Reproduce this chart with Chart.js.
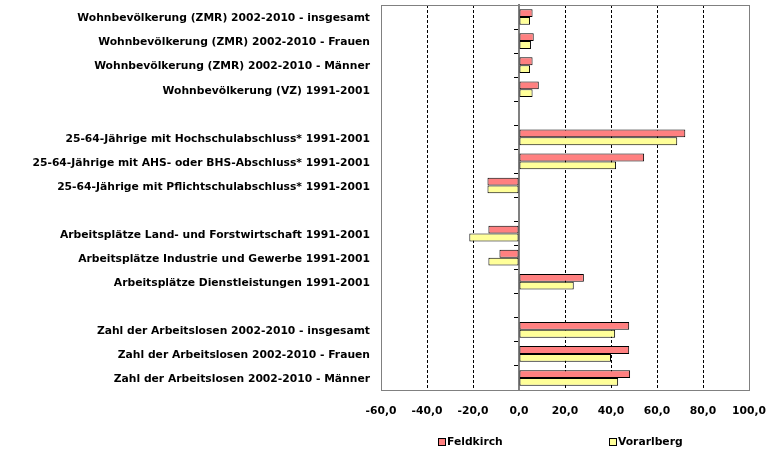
<!DOCTYPE html>
<html>
<head>
<meta charset="utf-8">
<script src="https://cdn.jsdelivr.net/npm/chart.js@4/dist/chart.umd.min.js"></script>
<style>
html,body{margin:0;padding:0;background:#fff;}
#wrap{width:777px;height:458px;position:relative;}
</style>
</head>
<body>
<div id="wrap"><canvas id="c" width="777" height="458"></canvas></div>
<script>
const categories = [
  'Wohnbevölkerung (ZMR) 2002-2010 - insgesamt',
  'Wohnbevölkerung (ZMR) 2002-2010 - Frauen',
  'Wohnbevölkerung (ZMR) 2002-2010 - Männer',
  'Wohnbevölkerung (VZ) 1991-2001',
  '',
  '25-64-Jährige mit Hochschulabschluss* 1991-2001',
  '25-64-Jährige mit AHS- oder BHS-Abschluss* 1991-2001',
  '25-64-Jährige mit Pflichtschulabschluss* 1991-2001',
  '',
  'Arbeitsplätze Land- und Forstwirtschaft 1991-2001',
  'Arbeitsplätze Industrie und Gewerbe 1991-2001',
  'Arbeitsplätze Dienstleistungen 1991-2001',
  '',
  'Zahl der Arbeitslosen 2002-2010 - insgesamt',
  'Zahl der Arbeitslosen 2002-2010 - Frauen',
  'Zahl der Arbeitslosen 2002-2010 - Männer'
];
const seriesNames = ['Feldkirch', 'Vorarlberg'];
const feldkirch = [5.9, 6.4, 5.9, 8.6, null, 72.3, 54.4, -13.7, null, -13.3, -8.5, 28.2, null, 47.9, 47.9, 48.3];
const vorarlberg = [4.8, 5.2, 4.8, 5.9, null, 68.8, 42.2, -13.7, null, -21.6, -13.3, 23.8, null, 41.8, 40.0, 43.1];
const xMin = -60, xMax = 100, xStep = 20;

const FONT = {family: 'DejaVu Sans', size: 10.75, weight: 'bold'};

const framePlugin = {
  id: 'frame',
  beforeDatasetsDraw(chart) {
    const a = chart.chartArea, ctx = chart.ctx;
    ctx.save();
    ctx.strokeStyle = '#808080';
    ctx.lineWidth = 1;
    ctx.strokeRect(Math.round(a.left) + 0.5, Math.round(a.top) + 0.5, Math.round(a.right - a.left), Math.round(a.bottom - a.top));
    ctx.restore();
  }
};

const legendPlugin = {
  id: 'customLegend',
  afterDraw(chart) {
    const ctx = chart.ctx, a = chart.chartArea;
    const step = 171, box = 7;
    ctx.save();
    ctx.font = 'bold 10.75px "DejaVu Sans"';
    ctx.textBaseline = 'middle';
    ctx.textAlign = 'left';
    const ds = chart.data.datasets;
    const x = Math.round(a.left + 57);
    const y = chart.height - 16;
    ds.forEach((d, i) => {
      const bx = x + i * step;
      ctx.fillStyle = d.backgroundColor;
      ctx.fillRect(bx + 0.5, y - 3.5, box, box);
      ctx.strokeStyle = '#000';
      ctx.lineWidth = 1;
      ctx.strokeRect(bx + 0.5, y - 3.5, box, box);
      ctx.fillStyle = '#000';
      ctx.fillText(d.label, bx + box + 2, y + 0.5);
    });
    ctx.restore();
  }
};

new Chart(document.getElementById('c'), {
  type: 'bar',
  data: {
    labels: categories,
    datasets: [
      {label: seriesNames[0], data: feldkirch, backgroundColor: '#FF8080', borderColor: '#000', borderWidth: 1, borderSkipped: false},
      {label: seriesNames[1], data: vorarlberg, backgroundColor: '#FFFF99', borderColor: '#000', borderWidth: 1, borderSkipped: false}
    ]
  },
  options: {
    indexAxis: 'y',
    responsive: false,
    animation: false,
    devicePixelRatio: 1,
    categoryPercentage: 0.65,
    barPercentage: 1.0,
    layout: {padding: {left: 4, right: 28, top: 5, bottom: 38}},
    plugins: {legend: {display: false}, tooltip: {enabled: false}},
    scales: {
      x: {
        type: 'linear',
        min: xMin, max: xMax,
        ticks: {
          stepSize: xStep,
          color: '#000',
          font: FONT,
          padding: 15,
          callback: (v) => v.toFixed(1).replace('.', ',')
        },
        grid: {
          drawTicks: false,
          color: (ctx) => (ctx.tick && (ctx.tick.value === 0 || ctx.tick.value === xMin || ctx.tick.value === xMax)) ? 'rgba(0,0,0,0)' : '#000',
          lineWidth: 1
        },
        border: {display: false, dash: [3, 2]},
        afterFit: (s) => { s.height = 30; s.paddingLeft = 0; s.paddingRight = 0; }
      },
      y: {
        type: 'category',
        position: 'left',
        offset: true,
        grid: {display: false, drawTicks: false},
        border: {display: false},
        ticks: {color: '#000', font: FONT, padding: 11, autoSkip: false, labelOffset: 1.5},
        afterFit: (s) => { s.width = 377; s.paddingTop = 0; s.paddingBottom = 0; }
      },
      y2: {
        type: 'category',
        position: {x: 0},
        offset: true,
        grid: {offset: true, drawOnChartArea: false, drawTicks: true, tickLength: 4, color: '#000', tickColor: '#000'},
        border: {display: true, color: '#808080', width: 2},
        ticks: {display: false, autoSkip: false},
        afterFit: (s) => { s.paddingTop = 0; s.paddingBottom = 0; }
      }
    }
  },
  plugins: [framePlugin, legendPlugin]
});
</script>
</body>
</html>
